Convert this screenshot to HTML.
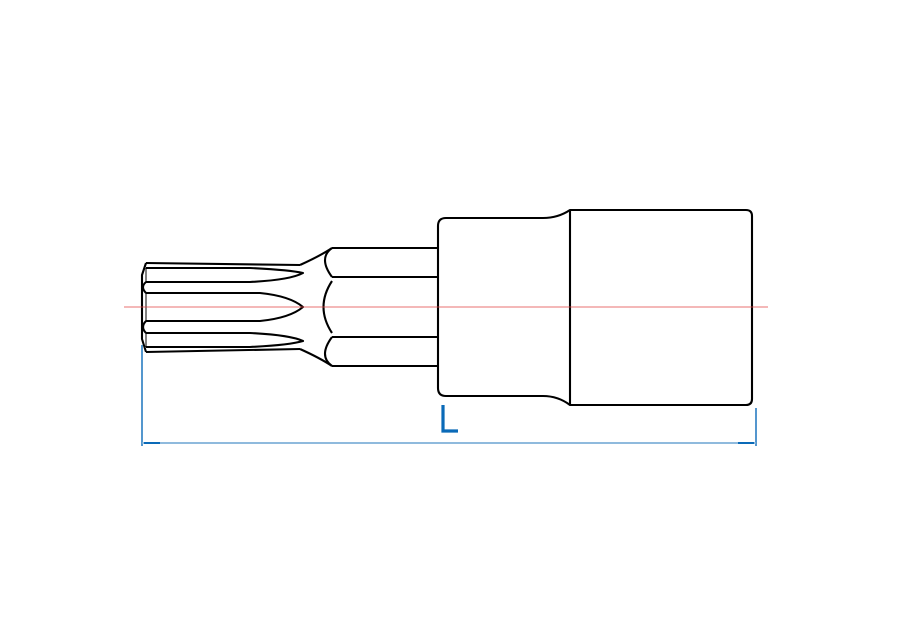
<!DOCTYPE html>
<html><head><style>html,body{margin:0;padding:0;background:#fff}svg{display:block}</style></head>
<body>
<svg width="900" height="630" viewBox="0 0 900 630" xmlns="http://www.w3.org/2000/svg">
<rect width="900" height="630" fill="#fff"/>
<g fill="none" stroke="#000" stroke-width="2.1" stroke-linejoin="round">
<path d="M446,218 L543,218 Q558,218 570,210 L746,210 Q752,210 752,216 L752,399 Q752,405 746,405 L570,405 Q558,396 543,396 L446,396 Q438,396 438,388 L438,226 Q438,218 446,218 Z"/>
<line x1="570" y1="210" x2="570" y2="405"/>
<line x1="332" y1="248" x2="438" y2="248"/>
<line x1="332" y1="277" x2="438" y2="277"/>
<line x1="332" y1="337" x2="438" y2="337"/>
<line x1="332" y1="366" x2="438" y2="366"/>
<path d="M332,248 Q318,258 332,277"/>
<path d="M332,281 Q315,307 332,333"/>
<path d="M332,337 Q318,356 332,366"/>
<path d="M332,248 Q320,256 300,265"/>
<path d="M332,366 Q320,358 300,349"/>
<path d="M146,263 L142,275 L142,339 L146,352"/>
<line x1="146" y1="263" x2="300" y2="265"/>
<line x1="146" y1="352" x2="300" y2="349"/>
<path d="M146,268 L250,268 Q290,270 303,273 Q290,280 250,282 L146,282"/>
<path d="M146,293 L260,293 Q290,296 303,307 Q290,318 260,321 L146,321"/>
<path d="M146,333 L250,333 Q290,335 303,341 Q290,345 250,347 L146,347"/>
<path d="M146,282 Q140,287 146,293"/>
<path d="M146,321 Q140,327 146,333"/>
<path d="M146,268 L146,282 M146,293 L146,321 M146,333 L146,347" stroke-width="1"/>
</g>
<line x1="124" y1="307" x2="768" y2="307" stroke="#e04040" stroke-width="0.8"/>
<g stroke="#0a6ab8" fill="none">
<line x1="142" y1="345" x2="142" y2="446" stroke-width="1.4"/>
<line x1="756" y1="408" x2="756" y2="446" stroke-width="1.4"/>
<line x1="142" y1="443" x2="756" y2="443" stroke="#7fb0d8" stroke-width="1.8"/>
<line x1="144" y1="443" x2="160" y2="443" stroke-width="2"/>
<line x1="738" y1="443" x2="754" y2="443" stroke-width="2"/>
<path d="M443,405 L443,431 L458,431" stroke-width="3.2"/>
</g>
</svg>
</body></html>
